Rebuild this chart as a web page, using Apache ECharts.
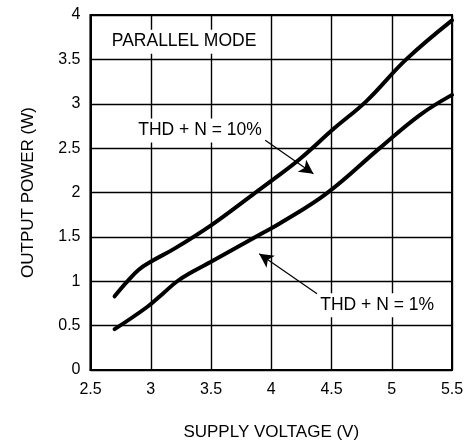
<!DOCTYPE html>
<html><head><meta charset="utf-8">
<script src="https://cdn.jsdelivr.net/npm/echarts@6/dist/echarts.min.js"></script>
<style>html,body{margin:0;padding:0;background:#fff}#c{width:474px;height:446px}</style>
</head><body><div id="c"></div>
<script>
var xTicks = [2.5, 3, 3.5, 4, 4.5, 5, 5.5];
var yTicks = [0, 0.5, 1, 1.5, 2, 2.5, 3, 3.5, 4];
var thd10X = [2.7, 2.8, 2.9, 3.0, 3.2, 3.5, 3.85, 4.0, 4.24, 4.52, 4.79, 5.12, 5.5];
var thd10Y = [0.83, 0.99, 1.13, 1.22, 1.37, 1.63, 1.98, 2.13, 2.38, 2.72, 3.03, 3.5, 3.94];
var thd1X = [2.7, 2.97, 3.1, 3.22, 3.35, 3.5, 3.91, 4.07, 4.46, 4.9, 5.23, 5.5];
var thd1Y = [0.46, 0.71, 0.86, 1.0, 1.11, 1.22, 1.53, 1.65, 1.99, 2.5, 2.87, 3.1];
var labels = ['PARALLEL MODE', 'THD + N = 10%', 'THD + N = 1%'];
var labelPos = [[2.66, 3.70], [2.88, 2.70], [4.39, 0.73]];
var arrows = [[[3.95, 2.59], [4.35, 2.21]], [[4.38, 0.86], [3.90, 1.31]]];

function pairs(xs, ys) { return xs.map(function (x, i) { return [x, ys[i]]; }); }
var FONT = 'Liberation Sans';
var chart = echarts.init(document.getElementById('c'), null, { renderer: 'canvas' });
var grid = { left: 90.5, right: 22, top: 15, bottom: 72 };
chart.setOption({
  animation: false,
  backgroundColor: '#fff',
  grid: Object.assign({ show: true, borderColor: '#000', borderWidth: 2 }, grid),
  xAxis: {
    type: 'value', min: 2.5, max: 5.5, interval: 0.5,
    name: 'SUPPLY VOLTAGE (V)', nameLocation: 'middle', nameGap: 54,
    nameTextStyle: { color: '#000', fontSize: 17, fontFamily: FONT },
    axisLine: { lineStyle: { color: '#000', width: 2 } },
    axisTick: { show: false },
    axisLabel: { color: '#000', fontSize: 16, fontFamily: FONT, margin: 12,
      formatter: function (v) { return xTicks.indexOf(v) >= 0 ? String(v) : ''; } },
    splitLine: { show: true, lineStyle: { color: '#000', width: 1.4 } }
  },
  yAxis: {
    type: 'value', min: 0, max: 4, interval: 0.5,
    name: 'OUTPUT POWER (W)', nameLocation: 'middle', nameGap: 54, nameRotate: 90,
    nameTextStyle: { color: '#000', fontSize: 17, fontFamily: FONT },
    axisLine: { lineStyle: { color: '#000', width: 2 } },
    axisTick: { show: false },
    axisLabel: { color: '#000', fontSize: 16, fontFamily: FONT, margin: 10,
      formatter: function (v) { return yTicks.indexOf(v) >= 0 ? String(v) : ''; } },
    splitLine: { show: true, lineStyle: { color: '#000', width: 1.4 } }
  },
  series: [
    { type: 'line', data: pairs(thd10X, thd10Y), smooth: 0.4, showSymbol: false,
      lineStyle: { color: '#000', width: 4, cap: 'round' }, z: 3 },
    { type: 'line', data: pairs(thd1X, thd1Y), smooth: 0.4, showSymbol: false,
      lineStyle: { color: '#000', width: 4, cap: 'round' }, z: 3 },
    { type: 'line', data: [], z: 6,
      markLine: { silent: true, symbol: ['none', 'arrow'], symbolSize: [11, 14],
        label: { show: false },
        lineStyle: { color: '#000', width: 1.2, type: 'solid' },
        data: arrows.map(function (a) { return [{ coord: a[0] }, { coord: a[1] }]; }) } }
  ]
});
var g = labels.map(function (t, i) {
  var p = chart.convertToPixel({ gridIndex: 0 }, labelPos[i]);
  return { type: 'text', x: p[0], y: p[1], z: 10,
    style: { text: t, fill: '#000', font: '17.5px "Liberation Sans"', verticalAlign: 'middle',
      backgroundColor: '#fff', padding: [3, 2, 3, 2] } };
});
chart.setOption({ graphic: g });
</script></body></html>
